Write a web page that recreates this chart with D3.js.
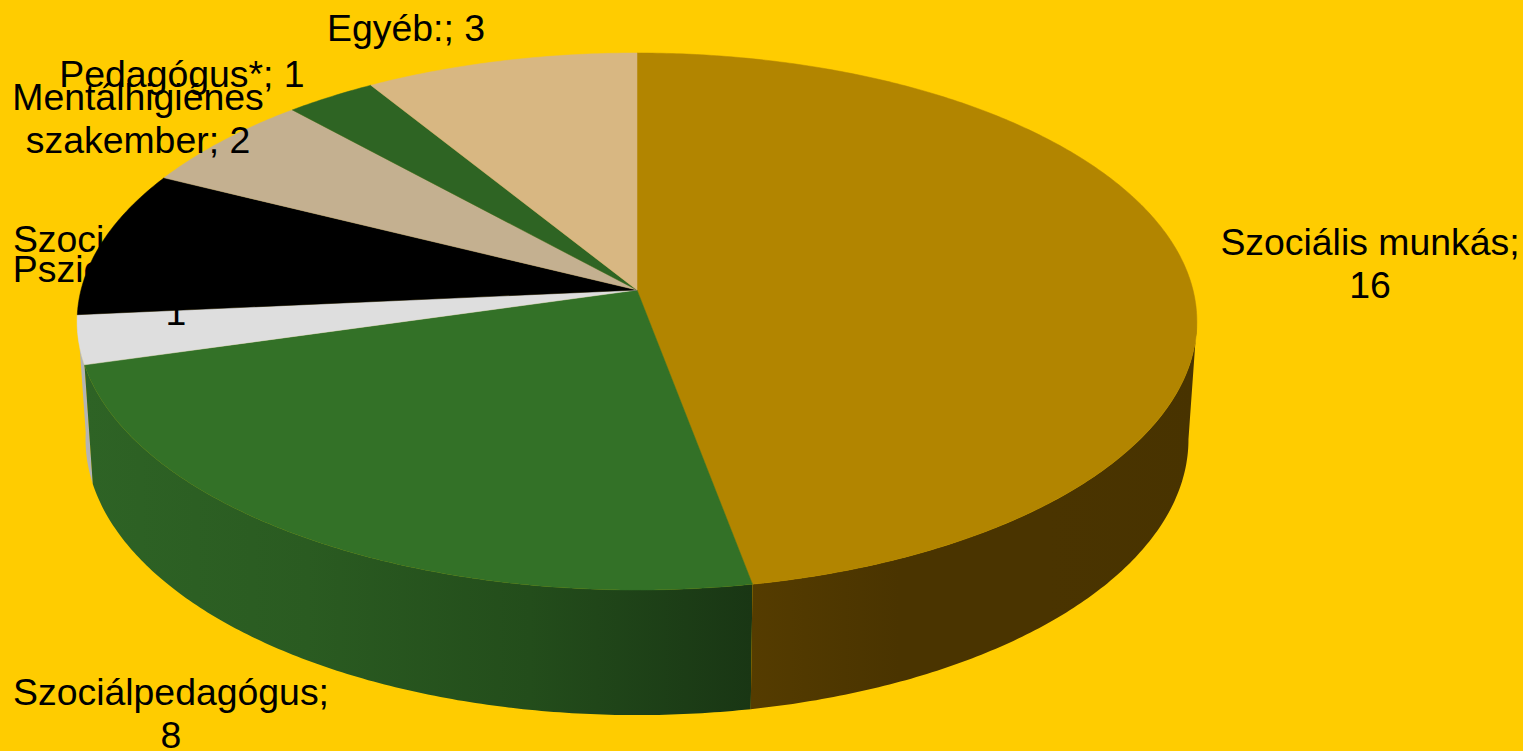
<!DOCTYPE html>
<html>
<head>
<meta charset="utf-8">
<title>Szakemberek</title>
<script src="https://cdn.jsdelivr.net/npm/d3@7"></script>
<style>
  html, body { margin: 0; padding: 0; background: #ffcc00; overflow: hidden; }
  text { font-family: "Liberation Sans", Arial, sans-serif; font-size: 37.4px; fill: #000; }
</style>
</head>
<body>
<script>
// chart data, clockwise from 12 o'clock
var categories = ["Szociális munkás", "Szociálpedagógus", "Pszichopedagógus", "Szociális segítő", "Mentálhigiénes szakember", "Pedagógus*", "Egyéb:"];
var values = [16, 8, 1, 3, 2, 1, 3];
var labelLines = [
    ["Szociális munkás;", "16"],
    ["Szociálpedagógus;", "8"],
    ["Pszichopedagógus;", "1"],
    ["Szociális segítő;", "3"],
    ["Mentálhigiénes", "szakember; 2"],
    ["Pedagógus*; 1"],
    ["Egyéb:; 3"]
];

var topColors = ["#b28500", "#337127", "#dedede", "#000000", "#c4b090", "#2e6423", "#d8b782"];
// side wall gradients, left to right
var sideColors = [
    ["#553c00", "#4a3400", "#4a3400", "#483300"],
    ["#2e6325", "#2a5b21", "#234d1b", "#193614"],
    ["#b4b4b4", "#b4b4b4"]
];

var width = 1523, height = 751;
var labelPos = [[1370, 255], [171, 705], [176, 282], [148, 252], [138, 110], [182, 87], [406, 41]];
var lineHeight = 42.5;

// pie is tilted, so a homography puts the circle on screen: apex is not the ellipse centre
var apex = {x: 637, y: 290};
var persp = 0.1173, rx = 556, ry = 264.8;
var lowerScaleX = 0.985, lowerScaleY = 1.027, lowerY = 407;
// angle where the top rim is widest, the wall silhouette starts here
var rightExtreme = Math.acos(-persp);

function rimTop(a) {
    var w = 1 + persp * Math.cos(a);
    return [apex.x + rx * Math.sin(a) / w, apex.y - ry * Math.cos(a) / w];
}
function rimBottom(a) {
    var p = rimTop(a);
    return [apex.x + lowerScaleX * (p[0] - apex.x), lowerY + lowerScaleY * (p[1] - apex.y)];
}
function arcAngles(a0, a1) {
    var n = Math.max(2, Math.ceil((a1 - a0) / 0.01));
    return d3.range(n + 1).map(function(i) { return a0 + (a1 - a0) * i / n; });
}
function sideAngles(d) {
    return arcAngles(Math.max(d.startAngle, rightExtreme), d.endAngle);
}

var line = d3.line();
var slices = d3.pie().sort(null)(values);

var svg = d3.select("body").append("svg")
    .attr("width", width)
    .attr("height", height)
    .style("display", "block");
svg.append("rect").attr("width", width).attr("height", height).attr("fill", "#ffcc00");

var defs = svg.append("defs");
var sideSlices = slices.filter(function(d) { return d.endAngle <= 1.5 * Math.PI; });

sideSlices.forEach(function(d) {
    var angles = sideAngles(d);
    var pts = angles.map(rimTop).concat(angles.map(rimBottom));
    var xExtent = d3.extent(pts, function(p) { return p[0]; });
    var grad = defs.append("linearGradient")
        .attr("id", "side" + d.index)
        .attr("gradientUnits", "userSpaceOnUse")
        .attr("x1", xExtent[0]).attr("x2", xExtent[1])
        .attr("y1", 0).attr("y2", 0);
    var stops = sideColors[d.index];
    stops.forEach(function(c, i) {
        grad.append("stop").attr("offset", i / (stops.length - 1)).attr("stop-color", c);
    });
});

// side wall, back slices first so the front ones cover them
svg.append("g").selectAll("path")
    .data(sideSlices.slice().reverse())
    .join("path")
    .attr("fill", function(d) { return "url(#side" + d.index + ")"; })
    .attr("d", function(d) {
        var angles = sideAngles(d);
        return line(angles.map(rimTop).concat(angles.slice().reverse().map(rimBottom))) + "Z";
    });

// top face, thin stroke hides the seams between slices
svg.append("g").selectAll("path")
    .data(slices)
    .join("path")
    .attr("fill", function(d) { return topColors[d.index]; })
    .attr("stroke", function(d) { return topColors[d.index]; })
    .attr("stroke-width", 0.5)
    .attr("d", function(d) {
        return line([[apex.x, apex.y]].concat(arcAngles(d.startAngle, d.endAngle).map(rimTop))) + "Z";
    });

// labels sit over the pie, black ones disappear on the black slice
var labels = svg.append("g").attr("text-anchor", "middle").selectAll("text")
    .data(slices)
    .join("text")
    .attr("transform", function(d) { return "translate(" + labelPos[d.index] + ")"; });
labels.selectAll("tspan")
    .data(function(d) { return labelLines[d.index]; })
    .join("tspan")
    .attr("x", 0)
    .attr("y", function(d, i) { return i * lineHeight; })
    .text(function(d) { return d; });
</script>
</body>
</html>
